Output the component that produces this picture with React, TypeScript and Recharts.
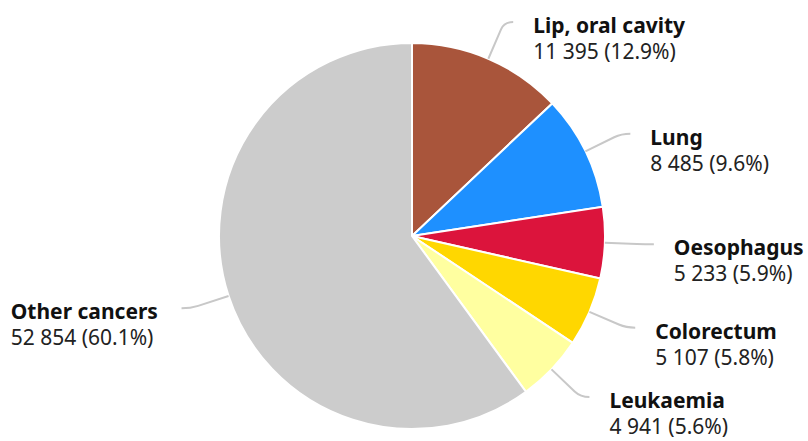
import { Cell, Pie, PieChart } from "recharts";

const categories = [
  "Lip, oral cavity",
  "Lung",
  "Oesophagus",
  "Colorectum",
  "Leukaemia",
  "Other cancers",
];
const cases = [11395, 8485, 5233, 5107, 4941, 52854];
const colors = ["#A9553B", "#1E90FF", "#DC143C", "#FFD700", "#FFFFA0", "#CCCCCC"];

const total = cases.reduce((a, b) => a + b, 0);
const data = categories.map((name, i) => ({ name, value: cases[i] }));

const RADIAN = Math.PI / 180;
const FONT = "'Noto Sans', 'Open Sans', sans-serif";

const fmt = (n: number) => String(n).replace(/\B(?=(\d{3})+(?!\d))/g, " ");

const renderLabel = (props: any) => {
  const { cx, cy, midAngle, outerRadius, name, value } = props;
  const cos = Math.cos(-midAngle * RADIAN);
  const sin = Math.sin(-midAngle * RADIAN);
  const at = (r: number) => [cx + r * cos, cy + r * sin];
  const [x1, y1] = at(outerRadius);
  const [x2, y2] = at(outerRadius + 32);
  const [x3, y3] = at(outerRadius + 40);
  const right = cos >= 0;
  const x4 = x3 + (right ? 9 : -9);
  const pct = ((value / total) * 100).toFixed(1);
  const valueText = `${fmt(value)} (${pct}%)`;
  // left side labels are left-aligned, so estimate block width
  const blockW = Math.max(name.length * 11.6, valueText.length * 10.2);
  const tx = right ? x4 + 20 : x4 - 20 - blockW;
  return (
    <g>
      <path
        d={`M${x1},${y1} L${x2},${y2} Q${x3},${y3} ${x4},${y3}`}
        stroke="#c8c8c8"
        strokeWidth={2}
        fill="none"
      />
      <text
        x={tx}
        y={y3 + 3}
        fontFamily={FONT}
        fontSize={21}
        fontWeight="bold"
        fill="#111"
        textAnchor="start"
        dominantBaseline="central"
      >
        {name}
      </text>
      <text
        x={tx}
        y={y3 + 29}
        fontFamily={FONT}
        fontSize={21}
        fill="#222"
        textAnchor="start"
        dominantBaseline="central"
      >
        {valueText}
      </text>
    </g>
  );
};

export default function App() {
  return (
    <div style={{ position: "fixed", left: 0, top: 0, background: "#fff" }}>
      <PieChart width={808} height={441} margin={{ top: 0, right: 0, bottom: 0, left: 0 }}>
        <Pie
          data={data}
          dataKey="value"
          nameKey="name"
          cx={412}
          cy={236}
          outerRadius={193}
          startAngle={90}
          endAngle={-270}
          stroke="#fff"
          strokeWidth={2}
          label={renderLabel}
          labelLine={false}
          isAnimationActive={false}
        >
          {data.map((d, i) => (
            <Cell key={d.name} fill={colors[i]} />
          ))}
        </Pie>
      </PieChart>
    </div>
  );
}
